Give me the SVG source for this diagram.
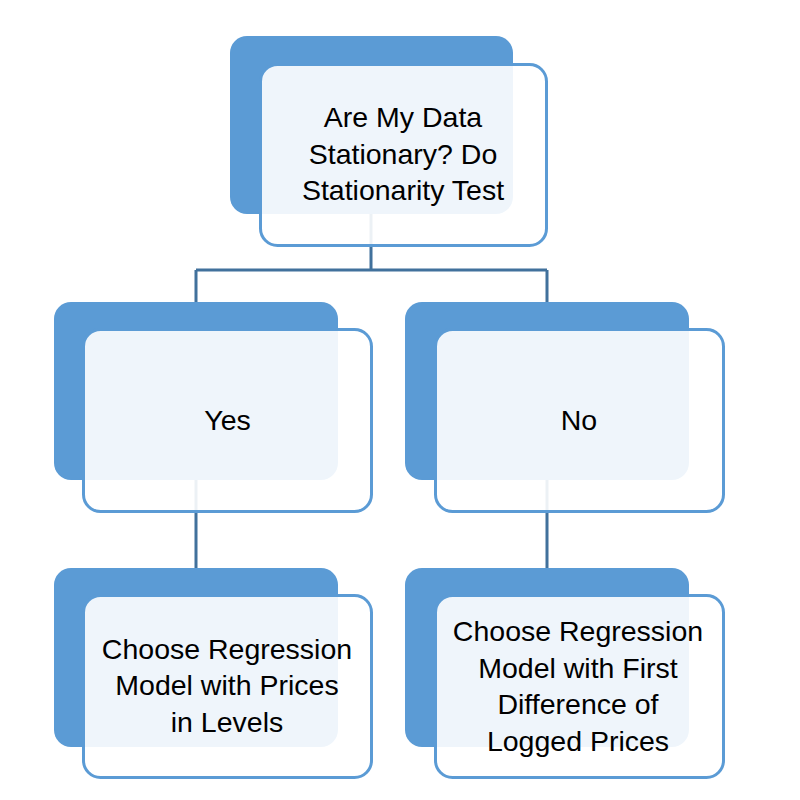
<svg xmlns="http://www.w3.org/2000/svg" width="800" height="800" viewBox="0 0 800 800">
<style>
.back{fill:#5B9BD5}
.front{fill:#FFFFFF;fill-opacity:0.9;stroke:#5B9BD5;stroke-width:3}
.conn{fill:none;stroke:#41719C;stroke-width:3}
text{font-family:"Liberation Sans",Arial,sans-serif;font-size:28.5px;fill:#000;text-anchor:middle}
</style>
<rect width="800" height="800" fill="#FFFFFF"/>
<g id="connectors">
<path class="conn" d="M371,214 V270 M196,270 H547 M196,270 V302 M547,270 V302 M196,480 V568 M547,480 V568"/>
</g>
<g id="node-top">
<rect class="back" x="230" y="36" width="283" height="178" rx="17"/>
<rect class="front" x="260.5" y="64.5" width="286" height="181" rx="17"/>
<text x="403" y="127">Are My Data</text>
<text x="403" y="163.5">Stationary? Do</text>
<text x="403" y="200">Stationarity Test</text>
</g>
<g id="node-yes">
<rect class="back" x="54" y="302" width="284" height="178" rx="17"/>
<rect class="front" x="83.5" y="329.5" width="288" height="182" rx="17"/>
<text x="227.5" y="430">Yes</text>
</g>
<g id="node-no">
<rect class="back" x="405" y="302" width="284" height="178" rx="17"/>
<rect class="front" x="435.5" y="329.5" width="288" height="182" rx="17"/>
<text x="579" y="430">No</text>
</g>
<g id="node-levels">
<rect class="back" x="54" y="568" width="284" height="179" rx="17"/>
<rect class="front" x="83.5" y="595.5" width="288" height="182" rx="17"/>
<text x="227" y="658.5">Choose Regression</text>
<text x="227" y="695">Model with Prices</text>
<text x="227" y="731.5">in Levels</text>
</g>
<g id="node-diff">
<rect class="back" x="405" y="568" width="284" height="179" rx="17"/>
<rect class="front" x="435.5" y="595.5" width="288" height="182" rx="17"/>
<text x="578" y="641">Choose Regression</text>
<text x="578" y="677.5">Model with First</text>
<text x="578" y="714">Difference of</text>
<text x="578" y="750.5">Logged Prices</text>
</g>
</svg>
